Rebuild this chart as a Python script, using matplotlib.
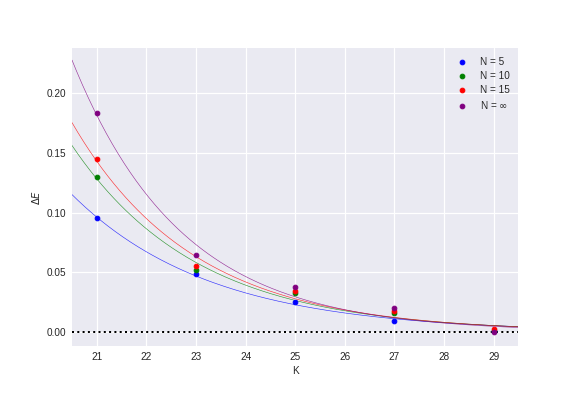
import numpy as np
import matplotlib
matplotlib.use("Agg")
import matplotlib.pyplot as plt

plt.style.use("seaborn-v0_8-darkgrid")

# values
K = np.array([21, 23, 25, 27, 29])
dE_5 = np.array([0.0954, 0.0483, 0.0254, 0.0089, 0.0008])
dE_10 = np.array([0.1297, 0.0516, 0.0329, 0.0159, 0.0012])
dE_15 = np.array([0.1448, 0.0550, 0.0346, 0.0178, 0.0025])
dE_inf = np.array([0.1833, 0.0642, 0.0374, 0.0198, 0.0003])

series = [(dE_5, "blue", "N = 5"),
          (dE_10, "green", "N = 10"),
          (dE_15, "red", "N = 15"),
          (dE_inf, "purple", r"N = $\infty$")]


def fit_exp(x, y):
    # least squares of y ~ a*exp(-b*(x-21)), grid over b
    best = None
    for b in np.linspace(0.05, 2.0, 4000):
        e = np.exp(-b * (x - 21))
        a = np.sum(y * e) / np.sum(e * e)
        err = np.sum((a * e - y) ** 2)
        if best is None or err < best[0]:
            best = (err, a, b)
    _, a, b = best
    return lambda t: a * np.exp(-b * (t - 21))


fig, ax = plt.subplots(figsize=(8, 5.5), dpi=72)
fig.subplots_adjust(bottom=0.126, top=0.879)
xs = np.linspace(20.5, 29.5, 300)

for y, col, lab in series:
    f = fit_exp(K, y)
    ax.plot(xs, f(xs), color=col, lw=0.6, alpha=0.8)
    ax.scatter(K, y, color=col, s=22, label=lab, zorder=3)

ax.axhline(0, color="k", ls=":", lw=2)
ax.grid(lw=1.2)
ax.tick_params(pad=6)
ax.set_xlim(20.5, 29.5)
ax.set_ylim(-0.0117, 0.2377)
ax.set_xlabel("K")
ax.set_ylabel(r"$\Delta E$")
ax.legend(loc="upper right", labelspacing=0.4)

fig.savefig("out.png", dpi=72)
